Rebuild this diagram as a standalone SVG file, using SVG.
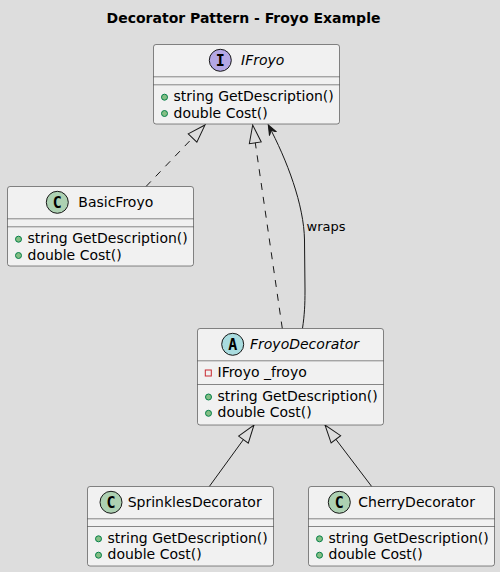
<svg xmlns="http://www.w3.org/2000/svg" width="500" height="572" viewBox="0 0 500 572">
<style>
text{font-family:"DejaVu Sans","Liberation Sans",sans-serif;fill:#000000}
.title{font-size:14px;font-weight:bold}
.name{font-size:14px}
.it{font-style:italic}
.mem{font-size:14px}
.lbl{font-size:13px}
.box{fill:#F1F1F1;stroke:#181818;stroke-width:0.5}
.sep{stroke:#181818;stroke-width:0.5}
.sp{font-family:"DejaVu Sans Mono","Liberation Mono",monospace;font-size:15px;font-weight:bold;text-anchor:middle}
.circ{stroke:#181818;stroke-width:1}
.pub{fill:#84BE84;stroke:#038048;stroke-width:1}
.priv{fill:none;stroke:#C82930;stroke-width:1}
.edge{fill:none;stroke:#181818;stroke-width:1}
.dash{stroke-dasharray:7,7}
</style>
<defs>
<marker id="tri" markerUnits="userSpaceOnUse" markerWidth="22" markerHeight="16" viewBox="-1 -2 22 16" refX="18" refY="6" orient="auto">
<path d="M0,0 L18,6 L0,12 Z" fill="#DDDDDD" stroke="#181818" stroke-width="1" stroke-dasharray="none"/>
</marker>
<marker id="arr" markerUnits="userSpaceOnUse" markerWidth="12" markerHeight="10" viewBox="0 -1 12 10" refX="10" refY="4" orient="auto">
<path d="M0,0 L10,4 L0,8 L4,4 Z" fill="#181818" stroke="#181818" stroke-width="1" stroke-dasharray="none"/>
</marker>
</defs>
<rect width="500" height="572" fill="#DDDDDD"/>
<text class="title" x="243.5" y="22.7" text-anchor="middle">Decorator Pattern - Froyo Example</text>

<g id="connectors">
<path class="edge dash" d="M146,186.5 L205,125" marker-end="url(#tri)"/>
<path class="edge dash" d="M282.3,328.5 L252.7,125" marker-end="url(#tri)"/>
<path class="edge" d="M302.5,328.3 C304.5,315 305,305 305,290 L304.5,240 C304,205 287,160 268.3,125" marker-end="url(#arr)"/>
<text class="lbl" x="306.5" y="230.5">wraps</text>
<path class="edge" d="M209.3,486.5 L254,425" marker-end="url(#tri)"/>
<path class="edge" d="M371.7,486.5 L325,425" marker-end="url(#tri)"/>
</g>

<g id="IFroyo">
<rect class="box" x="153.5" y="44.5" width="186" height="79.5" rx="2.5"/>
<circle class="circ" cx="220.3" cy="60.3" r="11" fill="#B4A7E5"/>
<text class="sp" x="220.3" y="65.5">I</text>
<text class="name it" x="241" y="65.3">IFroyo</text>
<line class="sep" x1="153.5" y1="76.8" x2="339.5" y2="76.8"/>
<line class="sep" x1="153.5" y1="84.8" x2="339.5" y2="84.8"/>
<circle class="pub" cx="164.5" cy="97.2" r="3"/>
<text class="mem" x="173.5" y="101.2">string GetDescription()</text>
<circle class="pub" cx="164.5" cy="113.5" r="3"/>
<text class="mem" x="173.5" y="117.5">double Cost()</text>
</g>

<g id="BasicFroyo">
<rect class="box" x="7.5" y="186.5" width="186" height="79.5" rx="2.5"/>
<circle class="circ" cx="57.3" cy="202.3" r="11" fill="#ADD1B2"/>
<text class="sp" x="57.3" y="207.5">C</text>
<text class="name" x="78.3" y="207.3">BasicFroyo</text>
<line class="sep" x1="7.5" y1="218.8" x2="193.5" y2="218.8"/>
<line class="sep" x1="7.5" y1="226.8" x2="193.5" y2="226.8"/>
<circle class="pub" cx="18.5" cy="239.2" r="3"/>
<text class="mem" x="27.5" y="243.2">string GetDescription()</text>
<circle class="pub" cx="18.5" cy="255.5" r="3"/>
<text class="mem" x="27.5" y="259.5">double Cost()</text>
</g>

<g id="FroyoDecorator">
<rect class="box" x="197.5" y="328.5" width="186" height="96.5" rx="2.5"/>
<circle class="circ" cx="232.7" cy="344.3" r="11" fill="#A9DCDF"/>
<text class="sp" x="232.7" y="349.5">A</text>
<text class="name it" x="250" y="349.3">FroyoDecorator</text>
<line class="sep" x1="197.5" y1="360.8" x2="383.5" y2="360.8"/>
<rect class="priv" x="205.3" y="370" width="6" height="6"/>
<text class="mem" x="217.5" y="377">IFroyo _froyo</text>
<line class="sep" x1="197.5" y1="384.5" x2="383.5" y2="384.5"/>
<circle class="pub" cx="208.5" cy="397" r="3"/>
<text class="mem" x="217.5" y="401">string GetDescription()</text>
<circle class="pub" cx="208.5" cy="413.3" r="3"/>
<text class="mem" x="217.5" y="417.3">double Cost()</text>
</g>

<g id="SprinklesDecorator">
<rect class="box" x="87.5" y="486.5" width="186" height="79.5" rx="2.5"/>
<circle class="circ" cx="111" cy="502.3" r="11" fill="#ADD1B2"/>
<text class="sp" x="111" y="507.5">C</text>
<text class="name" x="127.7" y="507.3">SprinklesDecorator</text>
<line class="sep" x1="87.5" y1="518.8" x2="273.5" y2="518.8"/>
<line class="sep" x1="87.5" y1="526.5" x2="273.5" y2="526.5"/>
<circle class="pub" cx="98.5" cy="538.8" r="3"/>
<text class="mem" x="107.5" y="542.8">string GetDescription()</text>
<circle class="pub" cx="98.5" cy="555.2" r="3"/>
<text class="mem" x="107.5" y="559.2">double Cost()</text>
</g>

<g id="CherryDecorator">
<rect class="box" x="308.5" y="486.5" width="186" height="79.5" rx="2.5"/>
<circle class="circ" cx="339.3" cy="502.3" r="11" fill="#ADD1B2"/>
<text class="sp" x="339.3" y="507.5">C</text>
<text class="name" x="358.3" y="507.3">CherryDecorator</text>
<line class="sep" x1="308.5" y1="518.8" x2="494.5" y2="518.8"/>
<line class="sep" x1="308.5" y1="526.5" x2="494.5" y2="526.5"/>
<circle class="pub" cx="319.5" cy="538.8" r="3"/>
<text class="mem" x="328.5" y="542.8">string GetDescription()</text>
<circle class="pub" cx="319.5" cy="555.2" r="3"/>
<text class="mem" x="328.5" y="559.2">double Cost()</text>
</g>
</svg>
